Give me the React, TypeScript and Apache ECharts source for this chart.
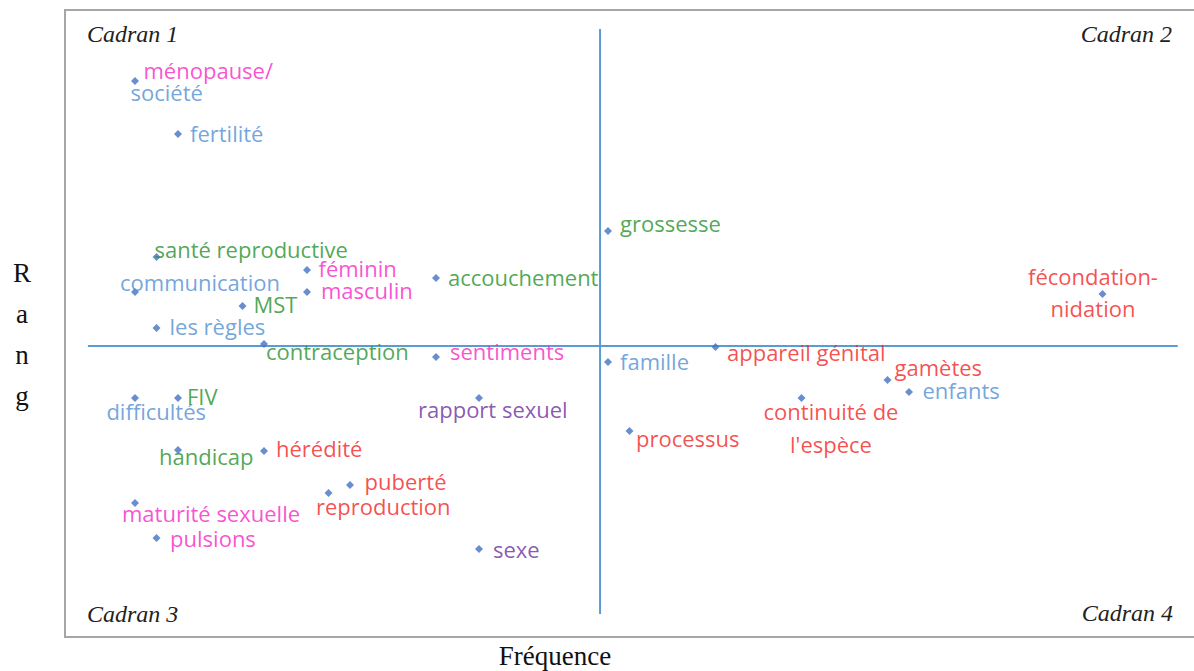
import React, { useEffect, useRef } from "react";
import * as echarts from "echarts";

// ---- data ----
const termes = [
  "ménopause/société", "fertilité", "santé reproductive", "communication", "MST",
  "féminin", "masculin", "accouchement", "les règles", "contraception",
  "sentiments", "famille", "grossesse", "fécondation-nidation", "appareil génital",
  "gamètes", "enfants", "continuité de l'espèce", "processus", "difficultés",
  "FIV", "rapport sexuel", "handicap", "hérédité", "puberté",
  "reproduction", "maturité sexuelle", "pulsions", "sexe",
];
const frequence = [3, 5, 4, 3, 8, 11, 11, 17, 4, 9, 17, 25, 25, 48, 30, 38, 39, 34, 26, 3, 5, 19, 5, 9, 13, 12, 3, 4, 19];
const rang = [5.33, 4.8, 3.57, 3.22, 3.08, 3.44, 3.22, 3.36, 2.86, 2.7, 2.57, 2.52, 3.83, 3.2, 2.67, 2.34, 2.22, 2.16, 1.83, 2.16, 2.16, 2.16, 1.64, 1.63, 1.29, 1.21, 1.11, 0.76, 0.65];
const groupes = [
  "rose", "bleu", "vert", "bleu", "vert",
  "rose", "rose", "vert", "bleu", "vert",
  "rose", "bleu", "vert", "rouge", "rouge",
  "rouge", "bleu", "rouge", "rouge", "bleu",
  "vert", "violet", "vert", "rouge", "rouge",
  "rouge", "rose", "rose", "violet",
];
const moyenneFrequence = 24.63;
const moyenneRang = 2.68;
const cadrans = ["Cadran 1", "Cadran 2", "Cadran 3", "Cadran 4"];

// ---- styles ----
const couleurs: Record<string, string> = {
  rose: "#F726C6",
  bleu: "#4F8ED3",
  vert: "#23912A",
  rouge: "#F41F1F",
  violet: "#6B2D9E",
};

const placement: Record<string, { dx: number; dy: number; align?: string; lh?: number }> = {
  "ménopause/société": { dx: -4.5, dy: 1.5, lh: 22 },
  "fertilité": { dx: 12, dy: 1 },
  "santé reproductive": { dx: -2, dy: -6 },
  "communication": { dx: -15, dy: -8 },
  "MST": { dx: 11, dy: 0 },
  "féminin": { dx: 11.5, dy: 0 },
  "masculin": { dx: 14, dy: 0 },
  "accouchement": { dx: 12, dy: 1 },
  "les règles": { dx: 13, dy: 0 },
  "contraception": { dx: 2, dy: 9 },
  "sentiments": { dx: 14, dy: -4 },
  "famille": { dx: 12, dy: 1 },
  "grossesse": { dx: 12, dy: -6 },
  "fécondation-nidation": { dx: -9.5, dy: 0, align: "center", lh: 32 },
  "appareil génital": { dx: 11.5, dy: 7 },
  "gamètes": { dx: 7, dy: -11 },
  "enfants": { dx: 13.5, dy: 0 },
  "continuité de l'espèce": { dx: 29.5, dy: 31.7, align: "center", lh: 33 },
  "processus": { dx: 6.5, dy: 9 },
  "difficultés": { dx: -28.6, dy: 15 },
  "FIV": { dx: 9, dy: 0 },
  "rapport sexuel": { dx: -61, dy: 13 },
  "handicap": { dx: -19, dy: 8 },
  "hérédité": { dx: 12, dy: -1 },
  "puberté": { dx: 14.6, dy: -2 },
  "reproduction": { dx: -12.6, dy: 15 },
  "maturité sexuelle": { dx: -13, dy: 11.6 },
  "pulsions": { dx: 13.6, dy: 1.7 },
  "sexe": { dx: 14, dy: 2 },
};

const texteFormat: Record<string, string> = {
  "ménopause/société": "{p|ménopause/}\n{b|société}",
  "fécondation-nidation": "fécondation-\nnidation",
  "continuité de l'espèce": "continuité de\nl'espèce",
};

const FONT = "'Open Sans', 'Noto Sans', sans-serif";
const SERIF = "'Liberation Serif', 'DejaVu Serif', serif";
const SIZE = 22;
const DY_FONT = -1.8; // Open Sans sits a little lower than the original face

export default function App() {
  const ref = useRef<HTMLDivElement>(null);

  useEffect(() => {
    if (!ref.current) return;
    const chart = echarts.init(ref.current, undefined, { renderer: "svg" });

    const points = termes.map((t, i) => {
      const p = placement[t] || { dx: 12, dy: 0 };
      const label: any = {
        show: true,
        position: "inside",
        formatter: texteFormat[t] || t,
        color: couleurs[groupes[i]],
        fontSize: SIZE,
        fontFamily: FONT,
        align: p.align || "left",
        verticalAlign: "middle",
        offset: [p.dx, p.dy + DY_FONT],
        textBorderWidth: 0,
      };
      if (p.lh) label.lineHeight = p.lh;
      if (t === "ménopause/société") {
        label.rich = {
          p: { color: couleurs.rose, fontSize: SIZE, fontFamily: FONT, padding: [0, 0, 0, 13], lineHeight: 22 },
          b: { color: couleurs.bleu, fontSize: SIZE, fontFamily: FONT, lineHeight: 22 },
        };
      }
      return { name: t, value: [frequence[i], rang[i]], label };
    });

    chart.setOption({
      animation: false,
      grid: { left: 70.5, right: 5.5, top: 14, bottom: 57, containLabel: false },
      xAxis: { type: "value", min: 0, max: 52, show: false, splitLine: { show: false } },
      yAxis: { type: "value", min: 0, max: 6, show: false, splitLine: { show: false } },
      graphic: [
        {
          type: "rect",
          shape: { x: 65, y: 10, width: 1160, height: 627 },
          style: { fill: "none", stroke: "#A6A6A6", lineWidth: 2 },
          z: 0,
        },
        {
          type: "text", left: 87, top: 22,
          style: { text: cadrans[0], font: `italic 24px ${SERIF}`, fill: "#222" },
        },
        {
          type: "text", right: 22, top: 22,
          style: { text: cadrans[1], font: `italic 24px ${SERIF}`, fill: "#222" },
        },
        {
          type: "text", left: 87, top: 602,
          style: { text: cadrans[2], font: `italic 24px ${SERIF}`, fill: "#222" },
        },
        {
          type: "text", right: 21, top: 601,
          style: { text: cadrans[3], font: `italic 24px ${SERIF}`, fill: "#222" },
        },
        {
          type: "text", x: 555, y: 656,
          style: { text: "Fréquence", font: `27px ${SERIF}`, fill: "#111", align: "center", verticalAlign: "middle" },
        },
        {
          type: "text", x: 22, y: 334.5,
          style: { text: "R\na\nn\ng", font: `27px ${SERIF}`, lineHeight: 41, fill: "#111", align: "center", verticalAlign: "middle" },
        },
      ],
      series: [
        {
          type: "line",
          data: [[0.81, moyenneRang], [51.5, moyenneRang]],
          symbol: "none",
          lineStyle: { color: "#5B9BD5", width: 2 },
          silent: true,
          z: 1,
        },
        {
          type: "line",
          data: [[moyenneFrequence, 0], [moyenneFrequence, 5.85]],
          symbol: "none",
          lineStyle: { color: "#5B9BD5", width: 2 },
          silent: true,
          z: 1,
        },
        {
          type: "scatter",
          symbol: "diamond",
          symbolSize: 8,
          itemStyle: { color: "#4472C4" },
          data: points,
          z: 3,
        },
      ],
    });

    return () => chart.dispose();
  }, []);

  return (
    <div
      ref={ref}
      style={{ position: "fixed", left: 0, top: 0, width: 1194, height: 671, background: "#fff" }}
    />
  );
}
